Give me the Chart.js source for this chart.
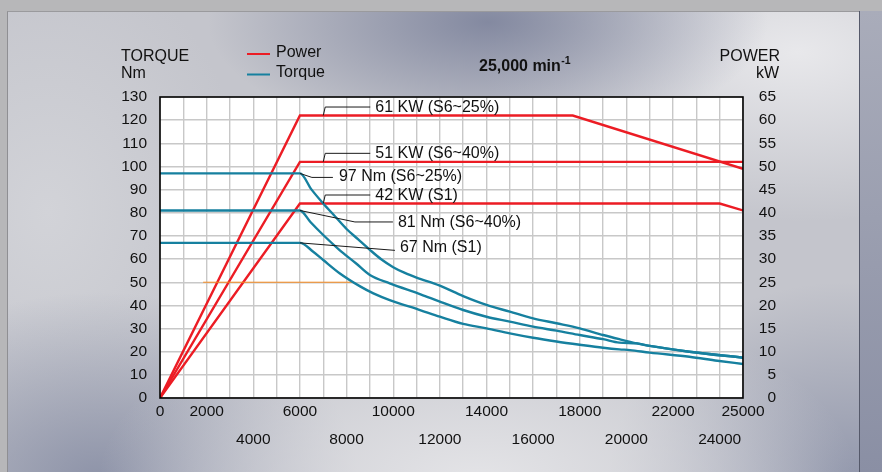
<!DOCTYPE html>
<html>
<head>
<meta charset="utf-8">
<script src="https://cdn.jsdelivr.net/npm/chart.js@4.4.1/dist/chart.umd.min.js"></script>
<style>
  html, body { margin: 0; padding: 0; }
  body { width: 882px; height: 472px; overflow: hidden; position: relative; background: #b7b7b9; }
  #panel {
    position: absolute; left: 7px; top: 11px; width: 851px; height: 461px;
    border-left: 1px solid #8f8f93; border-top: 1px solid #9a9a9d;
    background:
      radial-gradient(ellipse 280px 120px at 480px 10px, rgba(128,134,158,0.95), rgba(128,134,158,0)),
      radial-gradient(ellipse 380px 190px at 470px 470px, rgba(228,228,231,1), rgba(228,228,231,0)),
      radial-gradient(ellipse 260px 190px at 90px 470px, rgba(138,144,166,0.95), rgba(138,144,166,0)),
      radial-gradient(ellipse 240px 200px at 840px 470px, rgba(140,146,168,0.9), rgba(140,146,168,0)),
      radial-gradient(ellipse 320px 170px at 790px 40px, rgba(232,232,235,1), rgba(232,232,235,0)),
      radial-gradient(ellipse 200px 260px at 40px 200px, rgba(210,211,216,1), rgba(210,211,216,0)),
      #c4c5cc;
  }
  #strip { position: absolute; left: 859px; top: 11px; width: 23px; height: 461px; background: linear-gradient(#a9acba, #8a8fa4); border-left: 1px solid #55596a; }
  canvas { position: absolute; left: 0; top: 0; }
</style>
</head>
<body>
<div id="panel"></div>
<div id="strip"></div>
<canvas id="motorChart" width="882" height="472"></canvas>
<script>
// speed in min-1, power in kW, torque in Nm
const rpmPower25 = [0, 6000, 17700, 25000];
const power25 = [0, 61, 61, 49.5];
const rpmPower40 = [0, 6000, 25000];
const power40 = [0, 51, 51];
const rpmPowerS1 = [0, 6000, 24000, 25000];
const powerS1 = [0, 42, 42, 40.5];

const rpmTorque25 = [0, 6000, 6500, 7000, 7500, 8000, 8500, 9000, 9500, 10000, 10500, 11000, 12000, 13000, 14000, 15000, 16000, 17000, 18000, 19000, 19700, 20450, 21000, 22700, 25000];
const torque25 = [97, 97, 90, 84, 78.5, 73, 68.5, 64, 59.8, 56.5, 54.0, 52.0, 48.5, 44.0, 40.2, 37.3, 34.4, 32.3, 30.1, 27.2, 25.4, 23.6, 22.5, 20.0, 17.4];
const rpmTorque40 = [0, 6000, 6450, 7000, 7700, 8400, 9000, 9850, 11200, 12000, 13000, 14000, 15000, 16000, 17000, 18000, 19000, 19700, 20450, 21000, 22700, 25000];
const torque40 = [81, 81, 76.0, 70.4, 63.9, 58.2, 53.1, 49.5, 44.7, 41.6, 38.0, 35.1, 33.0, 30.8, 29.1, 27.2, 25.4, 23.9, 23.6, 22.5, 20.0, 17.4];
const rpmTorqueS1 = [0, 6000, 6570, 7000, 7700, 8600, 9150, 9850, 11150, 12000, 13000, 14000, 15000, 16000, 17000, 18000, 19000, 19700, 20150, 21000, 22700, 23900, 25000];
const torqueS1 = [67, 67, 63.2, 59.6, 53.9, 48.1, 45.2, 42.3, 38.0, 35.1, 32.0, 30.1, 27.9, 26.0, 24.4, 23.0, 21.7, 21.0, 20.7, 19.6, 17.8, 16.1, 14.7];

const rpmOrange = [1850, 8300];
const torqueOrange = [50, 50];

const topRowTicks = [0, 2000, 6000, 10000, 14000, 18000, 22000, 25000];
const bottomRowTicks = [4000, 8000, 12000, 16000, 20000, 24000];

// leader labels: [x, y, axis, text, kind]
const labels = [
    [7000, 61, 'y1', '61 KW (S6~25%)', 'kw'],
    [7000, 51, 'y1', '51 KW (S6~40%)', 'kw'],
    [7000, 42, 'y1', '42 KW (S1)', 'kw'],
    [6000, 97, 'y', '97 Nm (S6~25%)', 'nm97'],
    [6000, 81, 'y', '81 Nm (S6~40%)', 'nm81'],
    [6000, 67, 'y', '67 Nm (S1)', 'nm67']
];

const RED = '#ec1c24';
const TEAL = '#16809f';
const FONT = '"Liberation Sans", Arial, Helvetica, sans-serif';

function pts(xs, ys) {
    return xs.map((x, i) => ({ x: x, y: ys[i] }));
}

function line(data, color, axis, smooth) {
    return {
        data: data,
        borderColor: color,
        borderWidth: 2.4,
        pointRadius: 0,
        fill: false,
        tension: 0,
        cubicInterpolationMode: smooth ? 'monotone' : 'default',
        yAxisID: axis
    };
}

const datasets = [
    line(pts(rpmTorque25, torque25), TEAL, 'y', true),
    line(pts(rpmTorque40, torque40), TEAL, 'y', true),
    line(pts(rpmTorqueS1, torqueS1), TEAL, 'y', true),
    { data: pts(rpmOrange, torqueOrange), borderColor: '#f5891f', borderWidth: 1, pointRadius: 0, yAxisID: 'y' },
    line(pts(rpmPower25, power25), RED, 'y1', false),
    line(pts(rpmPower40, power40), RED, 'y1', false),
    line(pts(rpmPowerS1, powerS1), RED, 'y1', false)
];

const plotFrame = {
    id: 'plotFrame',
    beforeDraw(chart) {
        const a = chart.chartArea;
        const ctx = chart.ctx;
        ctx.save();
        ctx.fillStyle = '#ffffff';
        ctx.fillRect(a.left, a.top, a.right - a.left, a.bottom - a.top);
        ctx.restore();
    },
    afterDatasetsDraw(chart) {
        const ctx = chart.ctx;
        const a = chart.chartArea;
        const x = chart.scales.x;

        // leader lines and their labels
        ctx.save();
        ctx.strokeStyle = '#1a1a1a';
        ctx.lineWidth = 1;
        ctx.fillStyle = '#111';
        ctx.font = '16px ' + FONT;
        ctx.textBaseline = 'middle';
        labels.forEach(l => {
            const px = x.getPixelForValue(l[0]);
            const py = chart.scales[l[2]].getPixelForValue(l[1]);
            ctx.beginPath();
            ctx.moveTo(px, py);
            let tx, ty;
            if (l[4] === 'kw') {
                ctx.lineTo(px + 2, py - 8.5);
                ctx.lineTo(px + 47, py - 8.5);
                tx = px + 52; ty = py - 8;
            } else if (l[4] === 'nm97') {
                ctx.lineTo(px + 12, py + 4);
                ctx.lineTo(px + 33, py + 4);
                tx = px + 39; ty = py + 3.5;
            } else if (l[4] === 'nm81') {
                ctx.lineTo(px + 55, py + 11.5);
                ctx.lineTo(px + 93, py + 11.5);
                tx = px + 98; ty = py + 12;
            } else {
                ctx.lineTo(px + 95, py + 7.5);
                tx = px + 100; ty = py + 5;
            }
            ctx.stroke();
            ctx.fillText(l[3], tx, ty);
        });

        // frame
        ctx.strokeStyle = '#000';
        ctx.lineWidth = 1.6;
        ctx.strokeRect(a.left, a.top, a.right - a.left, a.bottom - a.top);
        ctx.restore();
    },
    afterDraw(chart) {
        const ctx = chart.ctx;
        ctx.save();
        ctx.fillStyle = '#111';
        ctx.textBaseline = 'middle';
        ctx.font = '16px ' + FONT;
        ctx.textAlign = 'left';
        ctx.fillText('TORQUE', 121, 57);
        ctx.fillText('Nm', 121, 74);
        ctx.textAlign = 'right';
        ctx.fillText('POWER', 780, 57);
        ctx.fillText('kW', 779, 74);

        // legend
        ctx.textAlign = 'left';
        ctx.fillText('Power', 276, 53);
        ctx.fillText('Torque', 276, 73);
        ctx.lineWidth = 2;
        ctx.strokeStyle = RED;
        ctx.beginPath(); ctx.moveTo(247, 54); ctx.lineTo(270, 54); ctx.stroke();
        ctx.strokeStyle = TEAL;
        ctx.beginPath(); ctx.moveTo(247, 74.5); ctx.lineTo(270, 74.5); ctx.stroke();

        // title with superscript
        ctx.font = 'bold 16px ' + FONT;
        const t = '25,000 min';
        ctx.fillText(t, 479, 67);
        const w = ctx.measureText(t).width;
        ctx.font = 'bold 10.5px ' + FONT;
        ctx.fillText('-1', 479 + w + 0.5, 61);
        ctx.restore();
    }
};

new Chart(document.getElementById('motorChart').getContext('2d'), {
    type: 'line',
    data: { datasets: datasets },
    options: {
        responsive: false,
        devicePixelRatio: 1,
        animation: false,
        layout: { padding: { top: 97, left: 0, right: 106, bottom: 0 } },
        plugins: {
            legend: { display: false },
            tooltip: { enabled: false },
            title: { display: false }
        },
        scales: {
            x: {
                type: 'linear',
                min: 0,
                max: 25000,
                afterFit: s => { s.height = 74; },
                border: { display: false },
                grid: { color: '#c8c8c8', lineWidth: 1.4, drawTicks: false },
                afterBuildTicks: s => {
                    const ticks = [];
                    for (let v = 0; v <= 25000; v += 1000) ticks.push({ value: v });
                    s.ticks = ticks;
                },
                ticks: {
                    autoSkip: false,
                    maxRotation: 0,
                    padding: 0,
                    color: '#111',
                    font: { family: FONT, size: 15.5, lineHeight: 1.8 },
                    callback: v => {
                        if (topRowTicks.includes(v)) return String(v);
                        if (bottomRowTicks.includes(v)) return ['', String(v)];
                        return '';
                    }
                }
            },
            y: {
                position: 'left',
                min: 0,
                max: 130,
                afterFit: s => { s.width = 160; },
                border: { display: false },
                grid: { color: '#c8c8c8', lineWidth: 1.4, drawTicks: false },
                ticks: {
                    stepSize: 10,
                    padding: 13,
                    color: '#111',
                    font: { family: FONT, size: 15.5 }
                }
            },
            y1: {
                position: 'right',
                min: 0,
                max: 65,
                afterFit: s => { s.width = 33; },
                border: { display: false },
                grid: { display: false, drawTicks: false },
                ticks: {
                    stepSize: 5,
                    padding: 16,
                    crossAlign: 'far',
                    color: '#111',
                    font: { family: FONT, size: 15.5 }
                }
            }
        }
    },
    plugins: [plotFrame]
});
</script>
</body>
</html>
